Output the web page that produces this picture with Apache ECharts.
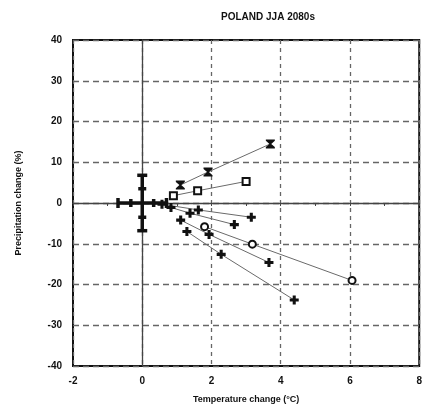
<!DOCTYPE html>
<html>
<head>
<meta charset="utf-8">
<script src="https://cdn.jsdelivr.net/npm/echarts@6/dist/echarts.min.js"></script>
<style>
  html, body { margin: 0; padding: 0; background: #fff; }
  #chart { width: 425px; height: 409px; }
</style>
</head>
<body>
<div id="chart"></div>
<script>
// scenario points, each line = 3 model runs (temp change, precip change)
var hourglassPts = [[1.1, 4.4], [1.9, 7.6], [3.7, 14.5]];
var squarePts = [[0.9, 1.8], [1.6, 3.0], [3.0, 5.3]];
var plus1Pts = [[0.57, -0.3], [1.62, -1.7], [3.15, -3.5]];
var plus2Pts = [[0.83, -1.1], [1.38, -2.5], [2.66, -5.3]];
var circlePts = [[1.8, -5.8], [3.18, -10.1], [6.06, -19.0]];
var plus3Pts = [[1.11, -4.2], [1.93, -7.7], [3.66, -14.6]];
var plus4Pts = [[1.29, -7.0], [2.28, -12.6], [4.39, -23.8]];

// natural variability cross at the origin (inner / outer range)
var crossCenter = [0, 0];
var errX = [0.33, 0.7];
var errY = [3.5, 6.8];

var xTicks = [-2, 8, 2];
var yTicks = [-40, 40, 10];

var plusSym = "path://M3.3,0H6.7V3.3H10V6.7H6.7V10H3.3V6.7H0V3.3H3.3Z";
var hourglassSym = "path://M0,0H10V1.5L6,5L10,8.5V10H0V8.5L4,5L0,1.5Z";

var chart = echarts.init(document.getElementById("chart"));

function lineSeries(name, data, symbol, size, filled) {
  return {
    name: name,
    type: "line",
    data: data,
    symbol: symbol,
    symbolSize: size,
    showSymbol: true,
    z: 5,
    lineStyle: { color: "#6a6a6a", width: 1 },
    itemStyle: filled
      ? { color: "#111", borderWidth: 0 }
      : { color: "#fff", borderColor: "#111", borderWidth: 2 }
  };
}

chart.setOption({
  animation: false,
  title: {
    text: "POLAND JJA 2080s",
    left: 263,
    top: 7,
    textAlign: "center",
    textStyle: { fontFamily: "Liberation Sans", fontSize: 10, fontWeight: "bold", color: "#111" }
  },
  grid: { left: 73, right: 3, top: 40, bottom: 42, show: true, borderColor: "#111", borderWidth: 2 },
  xAxis: [
    {
      type: "value",
      min: xTicks[0],
      max: xTicks[1],
      interval: xTicks[2],
      name: "Temperature change (\u00B0C)",
      nameLocation: "middle",
      nameGap: 29,
      nameTextStyle: { fontFamily: "Liberation Sans", fontSize: 9, fontWeight: "bold", color: "#111" },
      axisLine: { show: false, onZero: false },
      axisTick: { show: false },
      axisLabel: { margin: 10, fontFamily: "Liberation Sans", fontSize: 10, fontWeight: "bold", color: "#111" },
      splitLine: {
        show: true,
        lineStyle: { color: "#666", type: [4, 4], width: 1.3 }
      }
    },
    {
      type: "value",
      min: xTicks[0],
      max: xTicks[1],
      interval: 1,
      axisLine: { show: true, onZero: true, onZeroAxisIndex: 0, lineStyle: { color: "#444", width: 1.3 } },
      axisTick: { show: true, inside: true, length: 3, lineStyle: { color: "#444" } },
      axisLabel: { show: false },
      splitLine: { show: false }
    }
  ],
  yAxis: [
    {
      type: "value",
      min: yTicks[0],
      max: yTicks[1],
      interval: yTicks[2],
      name: "Precipitation change (%)",
      nameLocation: "middle",
      nameGap: 50,
      nameTextStyle: { fontFamily: "Liberation Sans", fontSize: 9, fontWeight: "bold", color: "#111" },
      axisLine: { show: false, onZero: false },
      axisTick: { show: false },
      axisLabel: { margin: 11, fontFamily: "Liberation Sans", fontSize: 10, fontWeight: "bold", color: "#111" },
      splitLine: {
        show: true,
        lineStyle: { color: "#666", type: [6, 4], width: 1.3 }
      }
    },
    {
      type: "value",
      min: yTicks[0],
      max: yTicks[1],
      interval: yTicks[2],
      position: "left",
      axisLine: { show: true, onZero: true, onZeroAxisIndex: 0, lineStyle: { color: "#444", width: 1.3 } },
      axisTick: { show: false },
      axisLabel: { show: false },
      splitLine: { show: false }
    }
  ],
  series: [
    {
      type: "custom",
      z: 6,
      data: [crossCenter],
      renderItem: function (params, api) {
        var cx = api.value(0), cy = api.value(1);
        var kids = [];
        var st = { stroke: "#111", lineWidth: 3.5 };
        var left = api.coord([cx - errX[1], cy]);
        var right = api.coord([cx + errX[1], cy]);
        var top = api.coord([cx, cy + errY[1]]);
        var bot = api.coord([cx, cy - errY[1]]);
        kids.push({ type: "line", shape: { x1: left[0], y1: left[1], x2: right[0], y2: right[1] }, style: st });
        kids.push({ type: "line", shape: { x1: top[0], y1: top[1], x2: bot[0], y2: bot[1] }, style: st });
        // caps on horizontal range
        errX.forEach(function (e, i) {
          var h = i === 1 ? 5 : 4;
          [-1, 1].forEach(function (s) {
            var p = api.coord([cx + s * e, cy]);
            kids.push({ type: "line", shape: { x1: p[0], y1: p[1] - h, x2: p[0], y2: p[1] + h }, style: st });
          });
        });
        // caps on vertical range
        errY.forEach(function (e, i) {
          var w = i === 1 ? 5 : 4;
          [-1, 1].forEach(function (s) {
            var p = api.coord([cx, cy + s * e]);
            kids.push({ type: "line", shape: { x1: p[0] - w, y1: p[1], x2: p[0] + w, y2: p[1] }, style: st });
          });
        });
        return { type: "group", children: kids };
      }
    },
    lineSeries("hourglass", hourglassPts, hourglassSym, 9, true),
    lineSeries("square", squarePts, "rect", 7, false),
    lineSeries("plus1", plus1Pts, plusSym, 9, true),
    lineSeries("plus2", plus2Pts, plusSym, 9, true),
    lineSeries("circle", circlePts, "circle", 7, false),
    lineSeries("plus3", plus3Pts, plusSym, 9, true),
    lineSeries("plus4", plus4Pts, plusSym, 9, true)
  ]
});
</script>
</body>
</html>
